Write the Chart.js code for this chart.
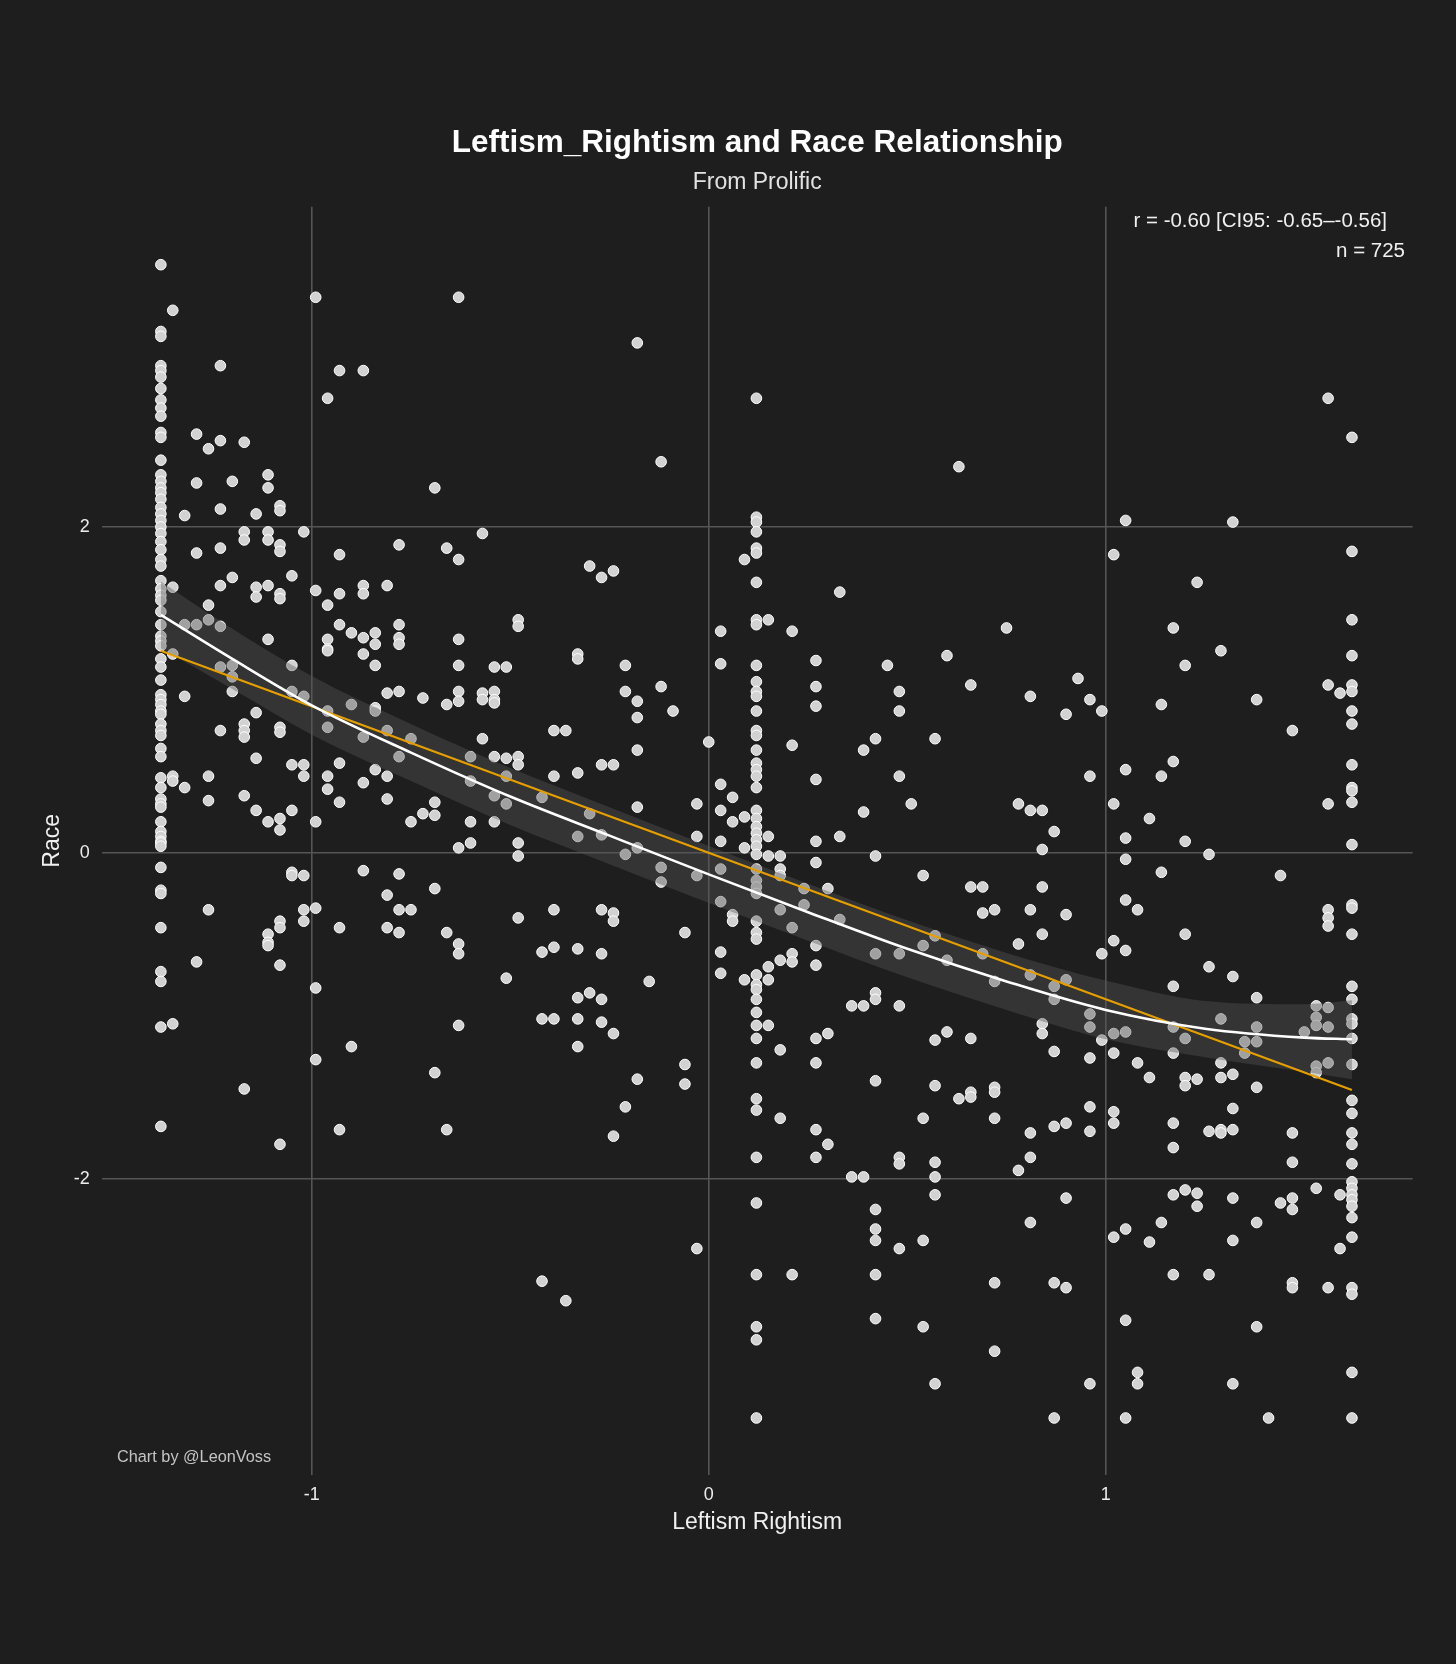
<!DOCTYPE html>
<html>
<head>
<meta charset="utf-8">
<script src="https://cdn.jsdelivr.net/npm/chart.js@4.4.1/dist/chart.umd.min.js"></script>
<style>
html,body{margin:0;padding:0;background:#1e1e1e;}
#wrap{width:1456px;height:1664px;position:relative;}
</style>
</head>
<body>
<div id="wrap"><canvas id="c"></canvas></div>
<script>
// ---- data ----
const scoreX = [
 -1.38,-1.35,-1.32,-1.29,-1.26,-1.23,-1.20,-1.17,-1.14,-1.11,-1.08,-1.05,-1.02,-0.99,-0.96,-0.93,-0.90,-0.87,-0.84,-0.81,
 -0.78,-0.75,-0.72,-0.69,-0.66,-0.63,-0.60,-0.57,-0.54,-0.51,-0.48,-0.42,-0.39,-0.36,-0.33,-0.30,-0.27,-0.24,-0.21,-0.18,
 -0.15,-0.12,-0.09,-0.06,-0.03,0.00,0.03,0.06,0.09,0.12,0.15,0.18,0.21,0.24,0.27,0.30,0.33,0.36,0.39,0.42,
 0.45,0.48,0.51,0.54,0.57,0.60,0.63,0.66,0.69,0.72,0.75,0.78,0.81,0.84,0.87,0.90,0.93,0.96,0.99,1.02,
 1.05,1.08,1.11,1.14,1.17,1.20,1.23,1.26,1.29,1.32,1.35,1.38,1.41,1.44,1.47,1.50,1.53,1.56,1.59,1.62
];
const raceY = [
 [3.61,3.20,3.17,2.99,2.96,2.92,2.85,2.78,2.73,2.68,2.58,2.55,2.41,2.32,2.28,2.24,2.21,2.17,2.12,2.08,2.04,2.00,1.96,1.91,1.86,1.80,1.76,1.67,1.62,1.58,1.55,1.48,1.40,1.33,1.30,1.27,1.19,1.14,1.06,0.97,0.94,0.91,0.87,0.85,0.79,0.75,0.72,0.64,0.59,0.46,0.40,0.33,0.30,0.28,0.19,0.13,0.10,0.07,0.06,0.04,-0.09,-0.23,-0.25,-0.46,-0.73,-0.79,-1.07,-1.68],
 [3.33,1.63,1.22,0.47,0.44,-1.05],
 [2.07,1.40,0.96,0.40],
 [2.57,2.27,1.84,1.40,-0.67],
 [2.48,1.52,1.43,0.47,0.32,-0.35],
 [2.99,2.53,2.11,1.87,1.64,1.39,1.14,0.75],
 [2.28,1.69,1.15,1.08,0.99],
 [2.52,1.97,1.92,0.79,0.75,0.71,0.35,-1.45],
 [2.08,1.63,1.57,0.86,0.58,0.26],
 [2.32,2.24,1.97,1.92,1.64,1.31,0.19,-0.50,-0.55,-0.57],
 [2.13,2.10,1.89,1.85,1.59,1.56,0.77,0.74,0.21,0.14,-0.42,-0.46,-0.69,-1.79],
 [1.70,1.15,0.99,0.54,0.26,-0.12,-0.14],
 [1.97,0.96,0.54,0.47,-0.14,-0.35,-0.42],
 [3.41,1.61,0.19,-0.34,-0.83,-1.27],
 [2.79,1.52,1.31,1.25,1.24,0.87,0.77,0.47,0.39],
 [2.96,1.83,1.59,1.40,0.55,0.31,-0.46,-1.70],
 [1.35,0.91,-1.19],
 [2.96,1.64,1.59,1.32,1.22,0.71,0.43,-0.11],
 [1.35,1.28,1.15,0.89,0.87,0.51],
 [1.64,0.98,0.75,0.47,0.33,-0.26,-0.46],
 [1.89,1.40,1.32,1.28,0.99,0.59,-0.13,-0.35,-0.49],
 [0.70,0.19,-0.35],
 [0.95,0.24],
 [2.24,0.31,0.23,-0.22,-1.35],
 [1.87,0.91,-0.49,-1.70],
 [3.41,1.80,1.31,1.15,0.99,0.93,0.03,-0.56,-0.62,-1.06],
 [0.59,0.44,0.19,0.06],
 [1.96,0.98,0.94,0.70],
 [1.14,0.99,0.94,0.92,0.59,0.35,0.19],
 [1.14,0.58,0.47,0.30,-0.77],
 [1.43,1.39,0.59,0.54,0.06,-0.02,-0.40],
 [0.34,-0.61,-1.02,-2.63],
 [0.75,0.47,-0.35,-0.58,-1.02],
 [0.75,-2.75],
 [1.22,1.19,0.49,0.10,-0.59,-0.89,-1.02,-1.19],
 [1.76,0.24,-0.86],
 [1.69,0.54,0.11,-0.35,-0.62,-0.90,-1.04],
 [1.73,0.54,-0.37,-0.42,-1.11,-1.74],
 [1.15,0.99,-0.01,-1.56],
 [3.13,0.93,0.83,0.63,0.28,0.03,-1.39],
 [-0.79],
 [2.40,1.02,-0.09,-0.18],
 [0.87],
 [-0.49,-1.30,-1.42],
 [0.30,0.10,-0.14,-2.43],
 [0.68],
 [1.36,1.16,0.42,0.26,0.07,-0.10,-0.30,-0.61,-0.74],
 [0.34,0.19,-0.38,-0.42],
 [1.80,0.22,0.03,-0.78],
 [2.79,2.06,2.03,1.97,1.87,1.84,1.66,1.43,1.40,1.15,1.05,0.99,0.96,0.87,0.75,0.72,0.63,0.55,0.51,0.47,0.40,0.26,0.21,0.16,0.12,0.08,0.04,-0.01,-0.10,-0.17,-0.21,-0.25,-0.42,-0.49,-0.53,-0.75,-0.81,-0.84,-0.90,-0.98,-1.06,-1.14,-1.29,-1.51,-1.58,-1.87,-2.15,-2.59,-2.91,-2.99,-3.47],
 [1.43,0.10,-0.02,-0.70,-0.78,-1.06],
 [-0.02,-0.10,-0.14,-0.35,-0.66,-1.21,-1.63],
 [1.36,0.66,-0.46,-0.62,-0.67,-2.59],
 [-0.22,-0.32],
 [1.18,1.02,0.90,0.45,0.07,-0.06,-0.57,-0.69,-1.14,-1.29,-1.70,-1.87],
 [-0.22,-1.11,-1.79],
 [1.60,0.10,-0.41],
 [-0.94,-1.99],
 [0.63,0.25,-0.94,-1.99],
 [0.70,-0.02,-0.62,-0.86,-0.90,-1.40,-2.19,-2.31,-2.38,-2.59,-2.86],
 [1.15],
 [0.99,0.87,0.47,-0.62,-0.94,-1.87,-1.91,-2.43],
 [0.30],
 [-0.14,-0.57,-1.63,-2.38,-2.91],
 [0.70,-0.51,-1.15,-1.43,-1.90,-1.99,-2.10,-3.26],
 [1.21,-0.66,-1.10],
 [2.37,-1.51],
 [1.03,-0.21,-1.14,-1.47,-1.50],
 [-0.21,-0.37,-0.62],
 [-0.35,-0.79,-1.44,-1.47,-1.63,-2.64,-3.06],
 [1.38],
 [0.30,-0.56,-1.95],
 [0.96,0.26,-0.35,-0.75,-1.72,-1.87,-2.27],
 [0.26,0.02,-0.21,-0.50,-1.05,-1.11],
 [0.13,-0.82,-0.90,-1.22,-1.68,-2.64,-3.47],
 [0.85,-0.38,-0.78,-1.66,-2.12,-2.67],
 [1.07],
 [0.94,0.47,-0.99,-1.07,-1.26,-1.56,-1.71,-3.26],
 [0.87,-0.62,-1.15],
 [1.83,0.30,-0.54,-1.11,-1.23,-1.59,-1.66,-2.36],
 [2.04,0.51,0.09,-0.04,-0.29,-0.60,-1.10,-2.31,-2.87,-3.47],
 [-0.35,-1.29,-3.19,-3.26],
 [0.21,-1.38,-2.39],
 [0.91,0.47,-0.12,-2.27],
 [1.38,0.56,-0.82,-1.07,-1.23,-1.66,-1.81,-2.10,-2.59],
 [1.15,0.07,-0.50,-1.14,-1.38,-1.43,-2.07],
 [1.66,-1.39,-2.09,-2.17],
 [-0.01,-0.70,-1.71,-2.59],
 [1.24,-1.02,-1.29,-1.38,-1.70,-1.72],
 [2.03,-0.76,-1.36,-1.57,-1.70,-2.12,-2.38,-3.26],
 [-1.16,-1.23],
 [0.94,-0.89,-1.07,-1.16,-1.44,-2.27,-2.91],
 [-3.47],
 [-0.14,-2.15],
 [0.75,-1.72,-1.90,-2.12,-2.19,-2.64,-2.67],
 [-1.10],
 [-0.94,-1.01,-1.06,-1.31,-1.35,-2.06],
 [2.79,1.03,0.30,-0.35,-0.40,-0.45,-0.95,-1.07,-1.29,-2.67],
 [0.98,-2.10,-2.43],
 [2.55,1.85,1.43,1.21,1.03,0.99,0.87,0.79,0.54,0.40,0.38,0.31,0.05,-0.32,-0.34,-0.50,-0.82,-0.90,-1.02,-1.05,-1.14,-1.30,-1.52,-1.60,-1.72,-1.79,-1.91,-2.02,-2.06,-2.10,-2.13,-2.17,-2.24,-2.36,-2.67,-2.71,-3.19,-3.47]
];
// smooth (loess) curve with its confidence band
const smoothX  = [-1.38,-1.2,-1.0,-0.75,-0.5,-0.25,0,0.25,0.5,0.75,1.0,1.25,1.5,1.62];
const smoothY  = [1.46,1.19,0.905,0.615,0.345,0.105,-0.133,-0.365,-0.59,-0.79,-0.965,-1.08,-1.135,-1.145];
const bandHigh = [1.665,1.375,1.085,0.79,0.52,0.28,0.042,-0.19,-0.415,-0.615,-0.785,-0.91,-0.93,-0.905];
const bandLow  = [1.255,1.005,0.725,0.44,0.17,-0.07,-0.308,-0.54,-0.765,-0.965,-1.145,-1.255,-1.345,-1.39];
// linear fit
const linearX = [-1.38,1.62];
const linearY = [1.24,-1.457];
// axes
const xTicks = [-1,0,1];
const yTicks = [-2,0,2];
const xRange = [-1.529,1.773];
const yRange = [-3.82,3.966];
const titleText = 'Leftism_Rightism and Race Relationship';
const subtitleText = 'From Prolific';
const statText = 'r = -0.60 [CI95: -0.65\u2013-0.56]';
const nText = 'n = 725';
const creditText = 'Chart by @LeonVoss';
const xTitle = 'Leftism Rightism';
const yTitle = 'Race';

// ---- chart ----
const FONT = "'Liberation Sans', Arial, Helvetica, sans-serif";
Chart.defaults.font.family = FONT;

const pts = [];
scoreX.forEach((x,i)=>raceY[i].forEach(y=>pts.push({x:x,y:y})));
const toXY = (xs,ys)=>xs.map((x,i)=>({x:x,y:ys[i]}));

const textPlugin = {
  id:'texts',
  beforeDraw(chart){
    const c = chart.ctx;
    c.save(); c.fillStyle = '#1e1e1e'; c.fillRect(0,0,chart.width,chart.height); c.restore();
  },
  afterDraw(chart){
    const c = chart.ctx;
    const ca = chart.chartArea;
    const cx = (ca.left+ca.right)/2;
    c.save();
    c.textBaseline = 'alphabetic';
    c.fillStyle = '#ffffff';
    c.textAlign = 'center';
    c.font = 'bold 31.5px ' + FONT;
    c.fillText(titleText, cx, 152);
    c.fillStyle = '#e2e2e2';
    c.font = '23px ' + FONT;
    c.fillText(subtitleText, cx, 189);
    c.fillStyle = '#f0f0f0';
    c.font = '20.5px ' + FONT;
    c.textAlign = 'right';
    c.fillText(statText, 1387, 226.5);
    c.fillText(nText, 1405, 256.5);
    c.fillStyle = '#c4c4c4';
    c.font = '16.3px ' + FONT;
    c.textAlign = 'left';
    c.fillText(creditText, 117, 1462);
    c.fillStyle = '#f0f0f0';
    c.font = '23px ' + FONT;
    c.textAlign = 'center';
    c.fillText(xTitle, cx, 1529);
    c.translate(59, (ca.top+ca.bottom)/2);
    c.rotate(-Math.PI/2);
    c.fillText(yTitle, 0, 0);
    c.restore();
  }
};

new Chart(document.getElementById('c'), {
  type:'line',
  data:{
    datasets:[
      {label:'points', data:pts, showLine:false, pointRadius:5.3, pointBorderWidth:1,
       pointBackgroundColor:'#d2d2d2', pointBorderColor:'#ffffff', order:5},
      {label:'bandLow', data:toXY(smoothX,bandLow), borderColor:'rgba(0,0,0,0)', borderWidth:1,
       pointRadius:0, fill:false, cubicInterpolationMode:'monotone', order:4},
      {label:'bandHigh', data:toXY(smoothX,bandHigh), borderColor:'rgba(0,0,0,0)', borderWidth:1,
       pointRadius:0, fill:'-1', backgroundColor:'rgba(85,85,85,0.4)', cubicInterpolationMode:'monotone', order:3},
      {label:'linear', data:toXY(linearX,linearY), borderColor:'#e69f00', borderWidth:2.2,
       pointRadius:0, fill:false, order:2},
      {label:'smooth', data:toXY(smoothX,smoothY), borderColor:'#ffffff', borderWidth:2.6,
       pointRadius:0, fill:false, cubicInterpolationMode:'monotone', order:1}
    ]
  },
  options:{
    responsive:true, maintainAspectRatio:false, animation:false, events:[],
    layout:{padding:{top:206.7,right:43.3,bottom:0,left:0}},
    plugins:{legend:{display:false}, tooltip:{enabled:false}, title:{display:false}},
    scales:{
      x:{type:'linear', min:xRange[0], max:xRange[1],
         afterBuildTicks:s=>{s.ticks = xTicks.map(v=>({value:v}));},
         afterFit:s=>{s.height = 189;},
         grid:{color:'#555555', lineWidth:1.6, drawTicks:false},
         border:{display:false},
         ticks:{color:'#ececec', font:{size:18}, padding:9, callback:v=>String(v), autoSkip:false, maxRotation:0}},
      y:{type:'linear', min:yRange[0], max:yRange[1],
         afterBuildTicks:s=>{s.ticks = yTicks.map(v=>({value:v}));},
         afterFit:s=>{s.width = 101.7;},
         grid:{color:'#555555', lineWidth:1.6, drawTicks:false},
         border:{display:false},
         ticks:{color:'#ececec', font:{size:18}, padding:12, callback:v=>String(v), autoSkip:false}}
    }
  },
  plugins:[textPlugin]
});
</script>
</body>
</html>
